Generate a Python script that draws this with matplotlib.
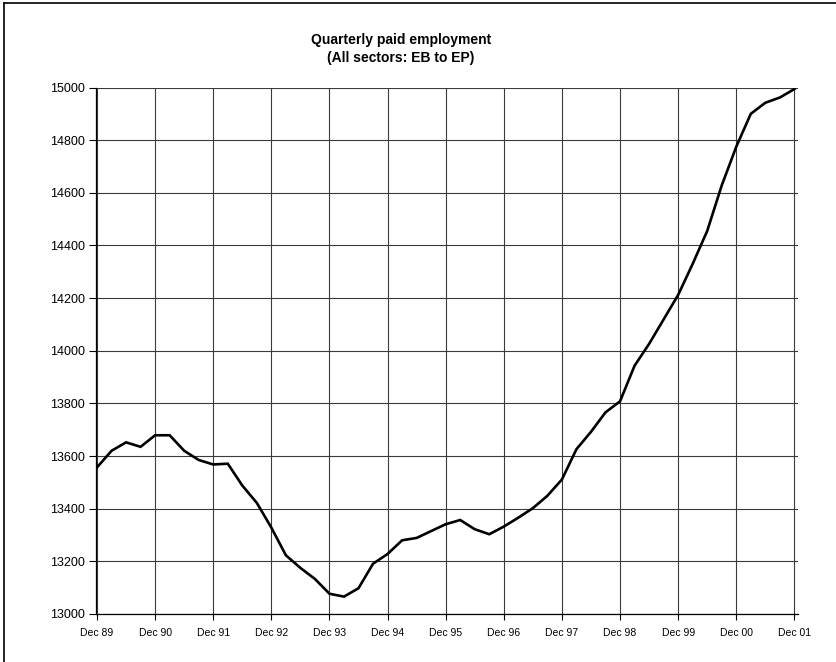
import matplotlib
matplotlib.use('Agg')
import matplotlib.pyplot as plt
from matplotlib.lines import Line2D

# quarterly paid employment (thousands), Dec 89 .. Dec 01
employment = [13557, 13620, 13652, 13635, 13679, 13679, 13620, 13585, 13568, 13571,
              13488, 13422, 13328, 13223, 13175, 13133, 13077, 13066, 13098, 13191,
              13228, 13280, 13289, 13315, 13341, 13357, 13322, 13303, 13332, 13366,
              13402, 13449, 13511, 13626, 13692, 13766, 13808, 13943, 14026, 14119,
              14212, 14330, 14455, 14628, 14775, 14900, 14942, 14962, 14994]
year_labels = ['Dec 89', 'Dec 90', 'Dec 91', 'Dec 92', 'Dec 93', 'Dec 94', 'Dec 95',
               'Dec 96', 'Dec 97', 'Dec 98', 'Dec 99', 'Dec 00', 'Dec 01']
y_ticks = [13000, 13200, 13400, 13600, 13800, 14000, 14200, 14400, 14600, 14800, 15000]

plt.rcParams['font.family'] = ['Liberation Sans', 'DejaVu Sans']

fig = plt.figure(figsize=(8.37, 6.62), dpi=100)
ax = fig.add_axes([96 / 837, 1 - 614 / 662, 702 / 837, 526.5 / 662])

quarters = list(range(len(employment)))
ax.plot(quarters, employment, color='black', lw=1.9, solid_joinstyle='miter')

ax.set_xlim(-0.07, 48.25)
ax.set_ylim(13000, 15000)
ax.set_xticks([4 * i for i in range(len(year_labels))])
ax.set_xticklabels(year_labels, fontsize=7.5)
ax.set_yticks(y_ticks)
ax.set_yticklabels([str(v) for v in y_ticks], fontsize=9)
ax.tick_params(axis='x', length=4, width=0.8, pad=6, color='black')
ax.tick_params(axis='y', length=5, width=0.8, pad=3, color='black')

ax.grid(True, color='#3a3a3a', lw=0.8)
ax.set_axisbelow(True)
for s in ['top', 'right']:
    ax.spines[s].set_visible(False)
for s in ['left', 'bottom']:
    ax.spines[s].set_color('black')
    ax.spines[s].set_linewidth(0.9)

fig.text(401 / 837, 1 - 40 / 662, 'Quarterly paid employment', ha='center', va='center',
         fontsize=10, fontweight='bold')
fig.text(401 / 837, 1 - 58 / 662, '(All sectors: EB to EP)', ha='center', va='center',
         fontsize=10, fontweight='bold')

# outer chart frame (top and left edges visible)
fig.add_artist(Line2D([4 / 837, 1], [1 - 3 / 662, 1 - 3 / 662], color='black', lw=1.2))
fig.add_artist(Line2D([4 / 837, 4 / 837], [0, 1 - 3 / 662], color='black', lw=1.2))

fig.savefig('out.png', dpi=100)
